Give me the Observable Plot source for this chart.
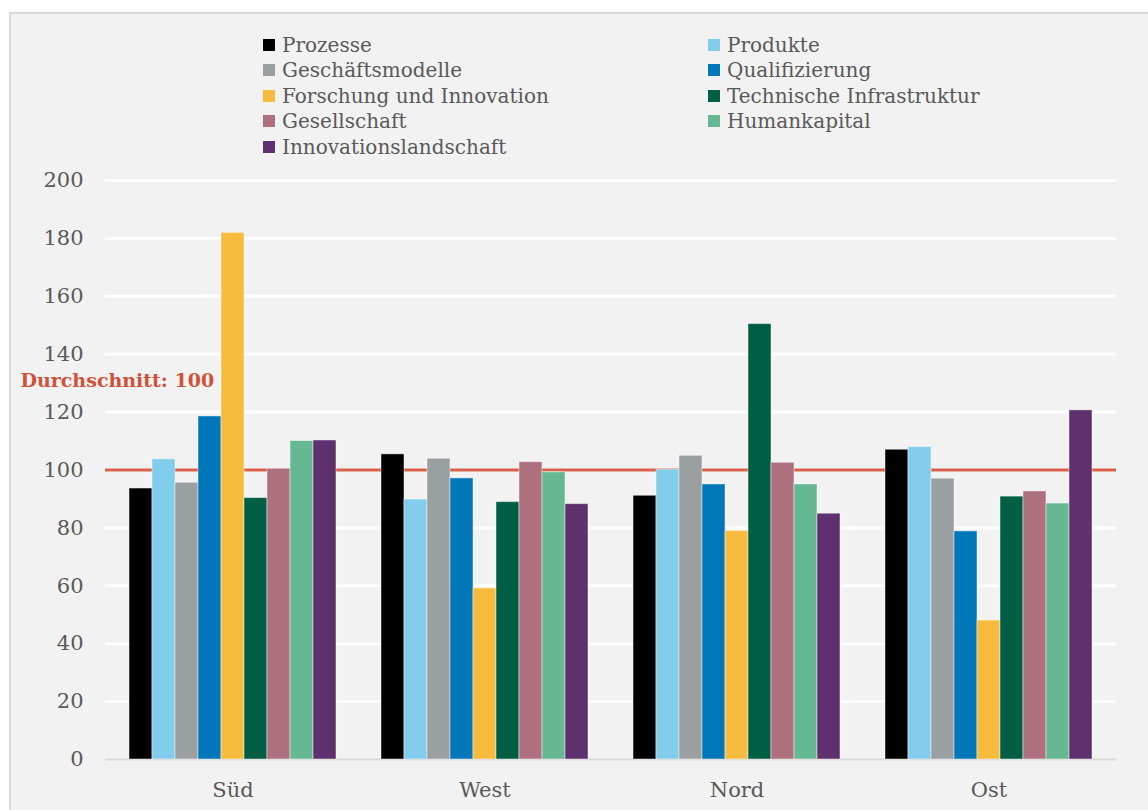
<!DOCTYPE html>
<html>
<head>
<meta charset="utf-8">
<script src="https://cdn.jsdelivr.net/npm/d3@7"></script>
<script src="https://cdn.jsdelivr.net/npm/@observablehq/plot@0.6"></script>
<style>
  html, body { margin: 0; padding: 0; background: #ffffff; }
  body { width: 1148px; height: 810px; position: relative; overflow: hidden; }
  #panel {
    position: absolute; left: 9px; top: 12px; right: 0; bottom: 0;
    background: #f2f2f2;
    border-left: 2px solid #d9d9d9; border-top: 2px solid #d9d9d9;
  }
  #legend {
    position: absolute; left: 263px; top: 32px;
    display: grid; grid-template-columns: 445px auto;
    grid-auto-rows: 25.5px;
    font-family: "DejaVu Serif", serif; font-size: 20px; color: #595959;
  }
  #legend .item { display: flex; align-items: center; white-space: nowrap; }
  #legend .sw { width: 12px; height: 12px; margin-right: 7px; flex: none; }
  .layer { position: absolute; left: 0; top: 165px; }
</style>
</head>
<body>
<div id="panel"></div>
<div id="legend"></div>
<div id="back" class="layer"></div>
<div id="front" class="layer"></div>
<script>
// Regions (groups along the x axis)
const regions = ["Süd", "West", "Nord", "Ost"];

// Indicator series, in drawing order within each group
const seriesNames = [
  "Prozesse", "Produkte", "Geschäftsmodelle", "Qualifizierung",
  "Forschung und Innovation", "Technische Infrastruktur",
  "Gesellschaft", "Humankapital", "Innovationslandschaft"
];
const seriesColors = [
  "#000000", "#82cdec", "#9a9fa2", "#0077b8",
  "#f7bb3d", "#005e45", "#ae707f", "#66b892", "#5e306d"
];

// Index values per region (average = 100)
const valuesSued = [93.6, 103.7, 95.6, 118.5, 181.9, 90.3, 100.4, 110.0, 110.2];
const valuesWest = [105.4, 89.8, 103.9, 97.1, 59.1, 88.9, 102.7, 99.2, 88.2];
const valuesNord = [91.1, 100.1, 104.9, 95.0, 78.9, 150.4, 102.5, 95.0, 84.9];
const valuesOst  = [107.0, 107.9, 97.0, 78.8, 48.0, 90.8, 92.6, 88.4, 120.6];

const yTicks = [0, 20, 40, 60, 80, 100, 120, 140, 160, 180, 200];
const average = 100;
const averageLabel = "Durchschnitt: 100";

const regionValues = [valuesSued, valuesWest, valuesNord, valuesOst];
const table = regions.flatMap((region, i) =>
  seriesNames.map((series, j) => ({region, series, value: regionValues[i][j]}))
);

// Legend in two columns
const legend = document.getElementById("legend");
seriesNames.forEach((name, i) => {
  const item = document.createElement("div");
  item.className = "item";
  const sw = document.createElement("span");
  sw.className = "sw";
  sw.style.background = seriesColors[i];
  const label = document.createElement("span");
  label.textContent = name;
  item.append(sw, label);
  legend.append(item);
});

// Shared frame so both layers use identical scales
const frame = {
  width: 1148,
  height: 645,
  marginTop: 15,
  marginBottom: 51,
  marginLeft: 105,
  marginRight: 32,
  style: {background: "transparent", fontFamily: "DejaVu Serif, serif", color: "#595959"},
  y: {domain: [0, 200], label: null}
};

// Back layer: continuous gridlines, baseline, average line, y axis and its label
const back = Plot.plot({
  ...frame,
  marks: [
    Plot.ruleY(yTicks.filter(d => d > 0), {stroke: "#ffffff", strokeWidth: 3}),
    Plot.ruleY([0], {stroke: "#d9d9d9", strokeWidth: 2}),
    Plot.ruleY([average], {stroke: "#d9604a", strokeWidth: 3}),
    Plot.axisY(yTicks, {tickSize: 0, tickPadding: 22, fontSize: 21, fill: "#595959", label: null}),
    Plot.text([average], {
      y: d => d, text: () => averageLabel,
      frameAnchor: "left", textAnchor: "start", dx: -85, dy: -89,
      fontSize: 19, fontWeight: "bold", fill: "#d0513a"
    })
  ]
});

// Front layer: grouped bars, one facet per region
const front = Plot.plot({
  ...frame,
  fx: {domain: regions, paddingInner: 0.17, paddingOuter: 0.085, label: null},
  x: {domain: seriesNames, padding: 0, axis: null},
  color: {domain: seriesNames, range: seriesColors},
  marks: [
    Plot.barY(table, {
      fx: "region", x: "series", y: "value", fill: "series",
      stroke: "#ffffff", strokeOpacity: 0.45, strokeWidth: 1
    }),
    Plot.axisY({ticks: [], label: null}),
    Plot.axisFx({anchor: "bottom", tickSize: 0, tickPadding: 23, fontSize: 21, fill: "#595959", label: null})
  ]
});

document.getElementById("back").append(back);
document.getElementById("front").append(front);
</script>
</body>
</html>
